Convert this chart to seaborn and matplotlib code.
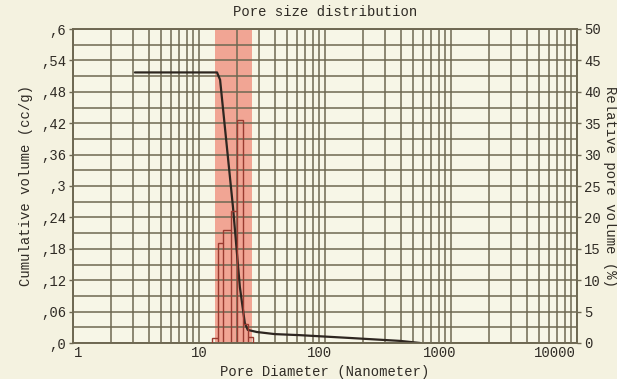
import numpy as np
import pandas as pd
import matplotlib
matplotlib.use("Agg")
import matplotlib.pyplot as plt
import matplotlib.transforms as mtrans
import seaborn as sns
from matplotlib.ticker import FixedLocator

# ---- data ----
cum_diam = [3.1, 13.9, 14.7, 16.4, 18.6, 21.1, 23.1, 24.4, 28.8, 40, 63, 158, 395, 570]
cum_vol = [0.517, 0.517, 0.503, 0.39, 0.26, 0.107, 0.038, 0.025, 0.021, 0.017, 0.015, 0.0096, 0.004, 0.0]

bin_edges = [12.6, 14.1, 15.5, 17.9, 20.0, 22.3, 24.4, 27.0]
rel_vol = [0.8, 16.0, 18.0, 21.0, 35.5, 3.0, 1.0]

band_range = [13.4, 26.4]

left_ticks = [0, 0.06, 0.12, 0.18, 0.24, 0.3, 0.36, 0.42, 0.48, 0.54, 0.6]
left_labels = [",0", ",06", ",12", ",18", ",24", ",3", ",36", ",42", ",48", ",54", ",6"]
right_ticks = [0, 5, 10, 15, 20, 25, 30, 35, 40, 45, 50]
x_ticks = [1, 10, 100, 1000, 10000]
x_labels = ["1", "10", "100", "1000", "10000"]

# ---- style ----
sns.set_style("white")
plt.rcParams["font.family"] = ["Liberation Mono", "DejaVu Sans Mono"]
bg = "#f4f2e0"
grid_c = "#6e6852"
txt_c = "#2f2b25"

fig = plt.figure(figsize=(6.17, 3.79), dpi=100, facecolor=bg)
ax = fig.add_axes([73/617, 36/379, 504/617, 314/379])
ax.set_facecolor("#f7f6e7")
ax.set_xscale("log")
ax.set_xlim(1, 10000)
ax.set_ylim(0, 0.6)

# red band
ax.axvspan(band_range[0], band_range[1], color="#f08a78", alpha=0.75, lw=0, zorder=1)

# grid
minor_x = [m * 10**e for e in range(0, 4) for m in range(1, 10)] + [10000]
for xv in minor_x:
    ax.axvline(xv, color=grid_c, lw=1.1, zorder=2)
for yv in np.arange(0, 0.6001, 0.03):
    ax.axhline(yv, color=grid_c, lw=1.1, zorder=2)

# twin axis bars
ax2 = ax.twinx()
ax2.set_ylim(0, 50)
ax2.stairs(rel_vol, bin_edges, color="#9a3b30", lw=1.0, zorder=3)
for e, h0, h1 in zip(bin_edges[1:-1], rel_vol[:-1], rel_vol[1:]):
    ax2.vlines(e, 0, min(h0, h1), color="#9a3b30", lw=1.0)

# cumulative curve
df = pd.DataFrame({"d": cum_diam, "v": cum_vol})
sns.lineplot(data=df, x="d", y="v", ax=ax, color="#2e2620", lw=1.6, zorder=4,
             estimator=None, sort=False)

ax.set_xticks(x_ticks)
ax.set_xticklabels(x_labels)
ax.xaxis.set_minor_locator(FixedLocator([]))
ax.set_yticks(left_ticks)
ax.set_yticklabels(left_labels)
ax2.set_yticks(right_ticks)
ax2.set_yticklabels([str(t) for t in right_ticks])

for a in (ax, ax2):
    for s in a.spines.values():
        s.set_color(grid_c)
        s.set_linewidth(1.2)
    a.tick_params(colors=txt_c, labelsize=10, length=3, width=1, color=grid_c, pad=2)
ax.tick_params(axis="x", pad=2, length=0)

# shift x tick labels like the reference
shifts = [5, 0, -5, -11, -22]
for lab, dx in zip(ax.get_xticklabels(), shifts):
    lab.set_transform(lab.get_transform() + mtrans.ScaledTranslation(dx / 100, 0, fig.dpi_scale_trans))

ax.set_xlabel("Pore Diameter (Nanometer)", fontsize=10, color=txt_c, labelpad=4)
ax.set_ylabel("Cumulative volume (cc/g)", fontsize=10, color=txt_c, labelpad=6)
ax2.set_ylabel("Relative pore volume (%)", fontsize=10, color=txt_c, rotation=270, labelpad=12)
ax.set_title("Pore size distribution", fontsize=10, color=txt_c, pad=9)

fig.savefig("out.png", dpi=100, facecolor=bg)
